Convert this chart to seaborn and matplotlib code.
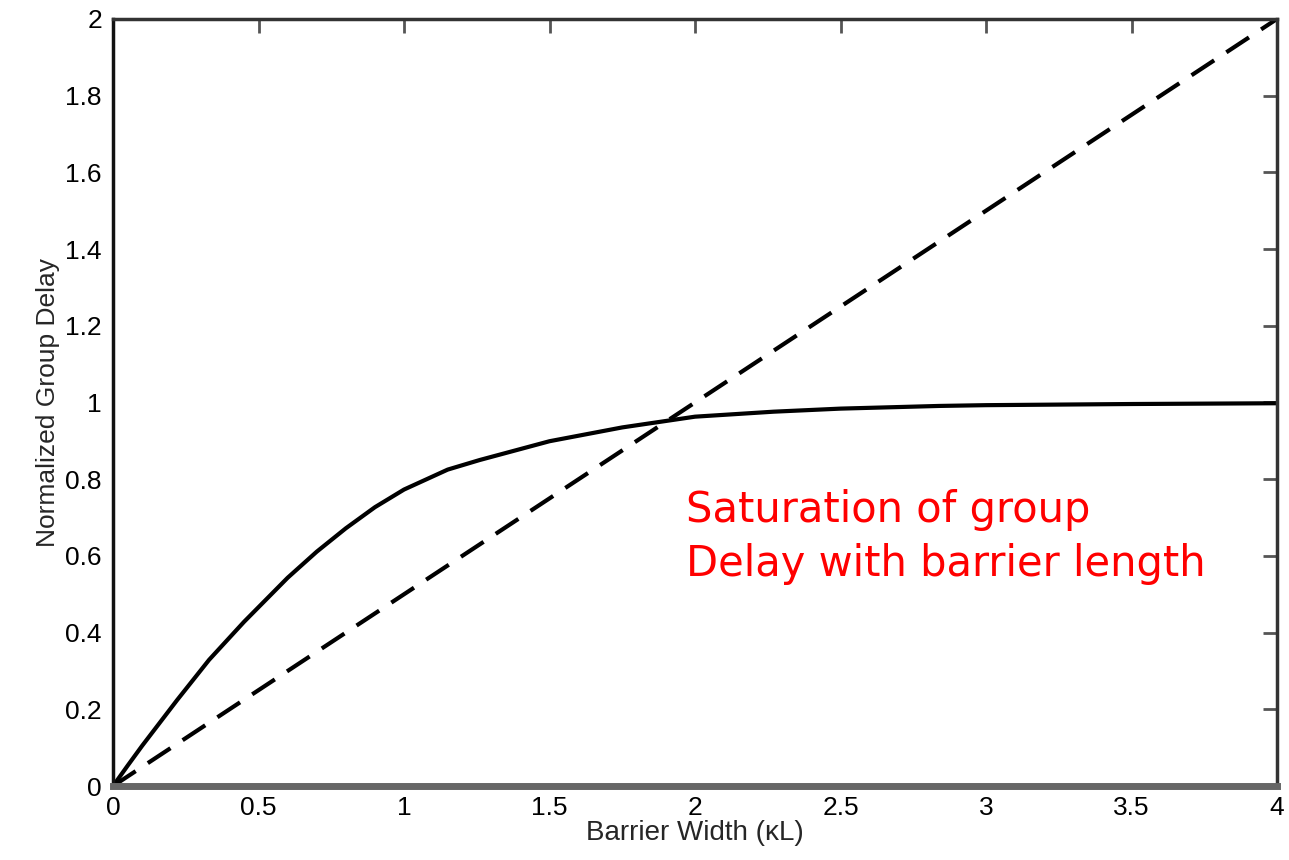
import matplotlib
matplotlib.use("Agg")
import matplotlib.pyplot as plt
import seaborn as sns
import pandas as pd

# Normalized group delay versus barrier width (kL)
barrier_width = [0.0, 0.05, 0.1, 0.22, 0.33, 0.45, 0.6, 0.7, 0.8, 0.9, 1.0,
                 1.15, 1.26, 1.5, 1.75, 2.0, 2.27, 2.5, 2.84, 3.0, 3.5, 4.0]
group_delay = [0.0, 0.053, 0.105, 0.224, 0.329, 0.428, 0.543, 0.611, 0.672,
               0.727, 0.773, 0.825, 0.85, 0.899, 0.935, 0.963, 0.976, 0.984,
               0.991, 0.993, 0.996, 0.998]

# Reference linear delay (dashed)
linear_width = [0.0, 4.0]
linear_delay = [0.0, 2.0]

x_ticks = [0, 0.5, 1, 1.5, 2, 2.5, 3, 3.5, 4]
x_tick_labels = ["0", "0.5", "1", "1.5", "2", "2.5", "3", "3.5", "4"]
y_ticks = [0, 0.2, 0.4, 0.6, 0.8, 1.0, 1.2, 1.4, 1.6, 1.8, 2.0]
y_tick_labels = ["0", "0.2", "0.4", "0.6", "0.8", "1", "1.2", "1.4", "1.6", "1.8", "2"]

sns.set_style("white")
plt.rcParams["font.family"] = ["Liberation Sans", "DejaVu Sans"]

fig = plt.figure(figsize=(12.89, 8.60), dpi=100)
ax = fig.add_axes([0.0877, 0.086, 0.9907 - 0.0877, 0.978 - 0.086])

curve = pd.DataFrame({"width": barrier_width, "delay": group_delay})
line = pd.DataFrame({"width": linear_width, "delay": linear_delay})

sns.lineplot(data=curve, x="width", y="delay", ax=ax, color="black",
             linewidth=3.0, sort=True, estimator=None)
sns.lineplot(data=line, x="width", y="delay", ax=ax, color="black",
             linewidth=3.0, linestyle=(0, (6.5, 3.5)), estimator=None)

ax.set_xlim(0, 4)
ax.set_ylim(0, 2)
ax.set_xticks(x_ticks)
ax.set_xticklabels(x_tick_labels)
ax.set_yticks(y_ticks)
ax.set_yticklabels(y_tick_labels)

ax.tick_params(axis="both", which="both", direction="in", length=10, width=2,
               color="#555555", labelsize=19, top=True, right=True,
               labelcolor="black")
ax.tick_params(axis="x", pad=7)
ax.tick_params(axis="y", pad=8)

ax.set_xlabel("Barrier Width (κL)", fontsize=20, labelpad=0)
ax.set_ylabel("Normalized Group Delay", fontsize=19, labelpad=4)

for side in ["top", "right", "left", "bottom"]:
    ax.spines[side].set_visible(True)
ax.spines["left"].set_color("#111111")
ax.spines["left"].set_linewidth(2.5)
ax.spines["bottom"].set_color("#666666")
ax.spines["bottom"].set_linewidth(5)
ax.spines["top"].set_color("#333333")
ax.spines["top"].set_linewidth(2.5)
ax.spines["right"].set_color("#333333")
ax.spines["right"].set_linewidth(2.5)

ax.text(1.97, 0.775, "Saturation of group\nDelay with barrier length",
        color="red", fontsize=30, family="DejaVu Sans", ha="left", va="top",
        linespacing=1.38)

fig.savefig("out.png", dpi=100, facecolor="white")
